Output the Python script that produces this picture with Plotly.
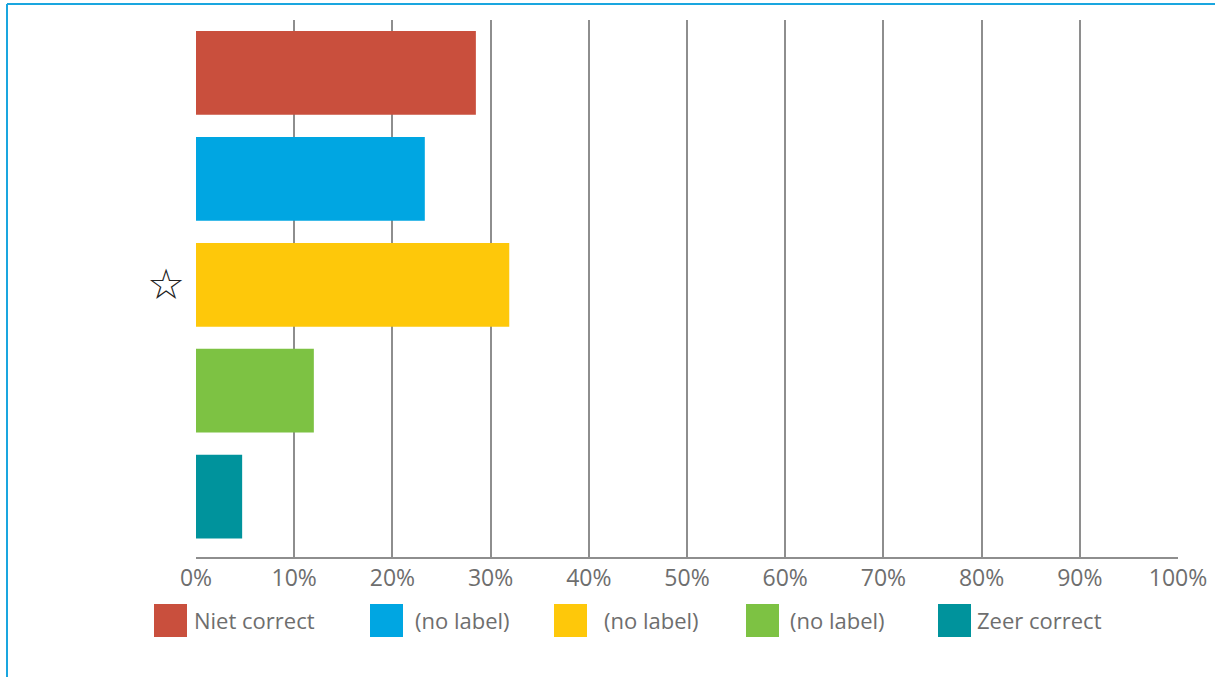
import plotly.graph_objects as go

# ---- data ----
categories = ["Niet correct", "(no label)", "(no label)", "(no label)", "Zeer correct"]
values = [28.5, 23.3, 31.9, 12.0, 4.7]
colors = ["#C94F3D", "#00A6E2", "#FEC80A", "#7DC243", "#00939C"]
y_ticktext = ["", "", "☆", "", ""]
x_tickvals = [0, 10, 20, 30, 40, 50, 60, 70, 80, 90, 100]
x_ticktext = ["0%", "10%", "20%", "30%", "40%", "50%", "60%", "70%", "80%", "90%", "100%"]

W, H = 1215, 677
L, R, T, B = 196, 1178, 20, 557


def px(x):
    return (x - L) / (R - L)


def py(y):
    return (B - y) / (B - T)


fig = go.Figure()
fig.add_trace(go.Bar(
    x=values,
    y=list(range(len(categories))),
    orientation="h",
    marker=dict(color=colors, line=dict(width=0)),
    width=0.79,
    hovertext=categories,
    showlegend=False,
))

text_color = "#6E6E6E"
font_family = "Open Sans, Noto Sans, sans-serif"

shapes = []
annotations = []

# legend (custom, large squares)
sq_x = [154, 370, 554, 746, 938]
tx_x = [192, 413, 602, 788, 975]
for i, name in enumerate(categories):
    shapes.append(dict(type="rect", xref="paper", yref="paper",
                       x0=px(sq_x[i]), x1=px(sq_x[i] + 33),
                       y0=py(637), y1=py(604),
                       fillcolor=colors[i], line=dict(width=0), layer="above"))
    annotations.append(dict(xref="paper", yref="paper", x=px(tx_x[i]), y=py(620),
                            xanchor="left", yanchor="middle", showarrow=False,
                            text=name, font=dict(size=22, color=text_color, family=font_family)))

# outer frame lines (top and left)
frame_color = "#1AA6DF"
shapes.append(dict(type="line", xref="paper", yref="paper",
                   x0=px(7), x1=px(1215), y0=py(4), y1=py(4),
                   line=dict(color=frame_color, width=2)))
shapes.append(dict(type="line", xref="paper", yref="paper",
                   x0=px(7), x1=px(7), y0=py(4), y1=py(677),
                   line=dict(color=frame_color, width=2)))

fig.update_layout(
    width=W, height=H, autosize=False,
    margin=dict(l=L, r=W - R, t=T, b=H - B, pad=0, autoexpand=False),
    paper_bgcolor="white", plot_bgcolor="white",
    shapes=shapes, annotations=annotations,
    bargap=0.2,
    xaxis=dict(range=[0, 100], tickvals=x_tickvals, ticktext=x_ticktext,
               automargin=False,
               showgrid=True, gridcolor="#8E8E8E", gridwidth=1.5,
               zeroline=False, showline=True, linecolor="#8E8E8E", linewidth=1.5,
               ticks="", ticklabelstandoff=0,
               tickfont=dict(size=23, color=text_color, family=font_family),
               fixedrange=True),
    yaxis=dict(range=[4.57, -0.5], tickvals=list(range(len(categories))), ticktext=y_ticktext,
               automargin=False,
               showgrid=False, zeroline=False, showline=False, ticks="",
               ticklabelstandoff=10,
               tickfont=dict(size=42, color="#222222", family="DejaVu Sans"),
               fixedrange=True),
    font=dict(family=font_family),
)

div = fig.to_html(full_html=False, include_plotlyjs=True,
                  config={"displayModeBar": False})
html = ("<!DOCTYPE html><html><head><meta charset='utf-8'>"
        "<style>html,body{margin:0;padding:0;overflow:hidden;background:#fff;}</style>"
        "</head><body>" + div + "</body></html>")
with open("out.html", "w", encoding="utf-8") as f:
    f.write(html)
